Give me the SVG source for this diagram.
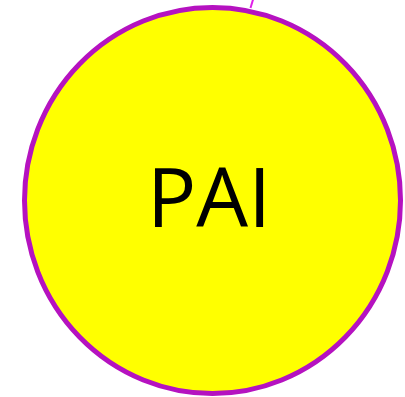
<svg xmlns="http://www.w3.org/2000/svg" width="405" height="397" viewBox="0 0 405 397">
<style>
.node{fill:#ffff00;stroke:#b512c0;stroke-width:5}
.label{font-family:"Open Sans","Liberation Sans",sans-serif;font-size:82px;fill:#000;text-anchor:middle}
.conn{stroke:#e020e8;stroke-width:2;fill:none}
</style>
<rect width="405" height="397" fill="#ffffff"/>
<g id="connectors">
<line class="conn" x1="253.5" y1="-2" x2="250.5" y2="8"/>
</g>
<g id="node-pai">
<ellipse class="node" cx="212.5" cy="200.5" rx="188" ry="193"/>
<text class="label" x="209" y="227">PAI</text>
</g>
</svg>
